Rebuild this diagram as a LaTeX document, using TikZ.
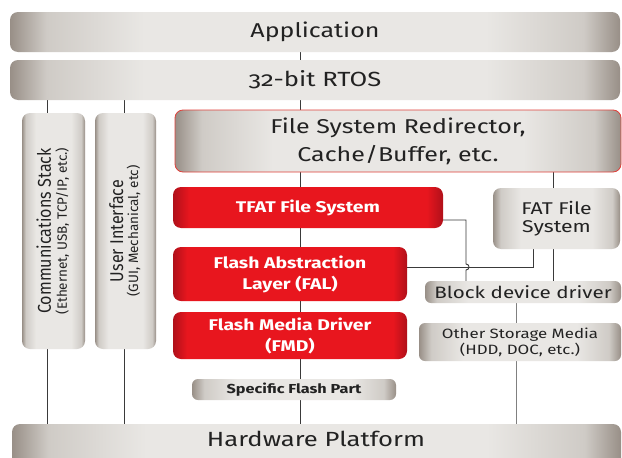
\documentclass[tikz,border=0pt]{standalone}
\usepackage{fontspec}
\usepackage{graphicx}
\setmainfont{Fira Sans}[Numbers=OldStyle, FakeStretch=1.25]
\newfontfamily\uprightlabel{Fira Sans}[Numbers=OldStyle]
\usetikzlibrary{backgrounds}

\definecolor{gedge}{HTML}{988F87}
\definecolor{gsoft}{HTML}{CFCBC6}
\definecolor{glight}{HTML}{E9E7E4}
\definecolor{redge}{HTML}{B0101A}
\definecolor{rmain}{HTML}{E8161E}
\definecolor{wire}{HTML}{3A3A3A}
\definecolor{ink}{HTML}{222222}
\definecolor{redline}{HTML}{E0403A}

% grey layer bars: dark rims fading to a light middle
\pgfdeclarehorizontalshading{greybar}{100bp}{color(0bp)=(gedge); color(25bp)=(gedge);
  color(28bp)=(gsoft); color(36bp)=(glight); color(64bp)=(glight); color(72bp)=(gsoft);
  color(75bp)=(gedge); color(100bp)=(gedge)}
% red TFAT blocks
\pgfdeclarehorizontalshading{redbar}{100bp}{color(0bp)=(redge); color(25bp)=(redge);
  color(28bp)=(rmain); color(72bp)=(rmain); color(75bp)=(redge); color(100bp)=(redge)}

\tikzset{
  graybox/.style={rounded corners=8pt, shading=greybar, inner sep=0pt, align=center, text=ink},
  redbox/.style={rounded corners=8pt, shading=redbar, inner sep=0pt, align=center, text=white,
    font=\bfseries\fontsize{15.5}{21}\selectfont},
  wire/.style={draw=wire, line width=0.9pt},
  plain/.style={inner sep=0pt, text=ink, align=center}
}

\begin{document}
\begin{tikzpicture}[x=1pt, y=-1pt]
\useasboundingbox (0,0) rectangle (622,458);

% layers
\node[graybox, minimum width=610pt, minimum height=40pt, font=\fontsize{20}{22}\selectfont] (app) at (315,32)
  {Application};
\node[graybox, minimum width=610pt, minimum height=40pt, font=\fontsize{20.5}{22}\selectfont] (rtos) at (315,80)
  {32-bit RTOS};

% side stacks with upright-reading labels
\node[graybox, minimum width=63pt, minimum height=236pt] (comm) at (53.5,231)
  {\rotatebox{90}{\uprightlabel\begin{tabular}{@{}c@{}}\fontsize{18.5}{19}\selectfont
   \scalebox{0.87}[1]{Communications Stack}\\[1pt]
   \fontsize{13.5}{14}\selectfont (Ethernet, USB, TCP/IP, etc.)\end{tabular}}};
\node[graybox, minimum width=61pt, minimum height=236pt] (ui) at (125.5,231)
  {\rotatebox{90}{\uprightlabel\begin{tabular}{@{}c@{}}\fontsize{18.5}{19}\selectfont
   \scalebox{0.87}[1]{User Interface}\\[0pt]
   \fontsize{13.5}{14}\selectfont (GUI, Mechanical, etc)\end{tabular}}};

\node[graybox, draw=redline, line width=0.8pt, minimum width=446pt, minimum height=62pt,
  font=\fontsize{20}{28}\selectfont] (redir) at (398,141)
  {File System Redirector,\\ Cache/Buffer, etc.};

\node[redbox, minimum width=270pt, minimum height=41pt] (tfat) at (308,207.5) {TFAT File System};
\node[redbox, minimum width=234pt, minimum height=54pt] (fal) at (290,274) {Flash Abstraction\\Layer (FAL)};
\node[redbox, minimum width=234pt, minimum height=47pt] (fmd) at (290,335.5) {Flash Media Driver\\(FMD)};
\node[graybox, rounded corners=6pt, minimum width=204pt, minimum height=21pt,
  font=\bfseries\fontsize{13}{15}\selectfont] (part) at (294,389.5) {Specific Flash Part};

\node[graybox, minimum width=127pt, minimum height=61pt, font=\fontsize{17}{18}\selectfont] (fat) at (556.5,218.5)
  {FAT File\\ System};
\node[graybox, rounded corners=6pt, minimum width=196pt, minimum height=22pt,
  font=\fontsize{16.5}{18}\selectfont] (blk) at (523,292) {Block device driver};
\node[graybox, rounded corners=6pt, minimum width=202pt, minimum height=38pt,
  font=\fontsize{13.5}{16}\selectfont] (other) at (520,342) {Other Storage Media\\ (HDD, DOC, etc.)};

\node[graybox, minimum width=609pt, minimum height=50pt] (hwbar) at (316.5,449) {};
\node[plain, font=\fontsize{20.5}{22}\selectfont] (hwtext) at (316,439) {Hardware Platform};

% connector columns
\coordinate (xs) at (300,0);
\coordinate (xc) at (47,0);
\coordinate (xu) at (124,0);
\coordinate (xf) at (553,0);
\coordinate (xj) at (466,0);
\coordinate (xl) at (533,0);
\coordinate (xo) at (516,0);
\coordinate (tf) at ([yshift=-12.5pt]tfat.east);
\coordinate (fl) at ([yshift=7pt]fal.east);

\begin{pgfonlayer}{background}
\fill[white] (0,0) rectangle (622,458);
\draw[wire] (app.south -| xs) -- (rtos.north -| xs);
\draw[wire] (rtos.south -| xs) -- (redir.north -| xs);
\draw[wire] (rtos.south -| xc) -- (comm.north -| xc);
\draw[wire] (rtos.south -| xu) -- (ui.north -| xu);
\draw[wire] (comm.south -| xc) -- (hwbar.north -| xc);
\draw[wire] (ui.south -| xu) -- (hwbar.north -| xu);
\draw[wire] (redir.south -| xs) -- (tfat.north -| xs);
\draw[wire] (tfat.south -| xs) -- (fal.north -| xs);
\draw[wire] (fal.south -| xs) -- (fmd.north -| xs);
\draw[wire] (fmd.south -| xs) -- (part.north -| xs);
\draw[wire] (part.south -| xs) -- (hwbar.north -| xs);
\draw[wire] (redir.south -| xf) -- (fat.north -| xf);
\draw[wire] (fat.south -| xf) -- (blk.north -| xf);
\draw[wire, draw=gray] (blk.south -| xo) -- (other.north -| xo);
\draw[wire, draw=gray] (other.south -| xo) -- (hwbar.north -| xo);
\draw[wire] (tf) -- (tf -| xj) -- ([yshift=3pt]xj |- fl)
  .. controls +(4,0) and +(4,0) .. ([yshift=-3pt]xj |- fl) -- (blk.north -| xj);
\draw[wire] (fl) -- (fl -| xl) -- (fat.south -| xl);
\end{pgfonlayer}
\end{tikzpicture}
\end{document}
